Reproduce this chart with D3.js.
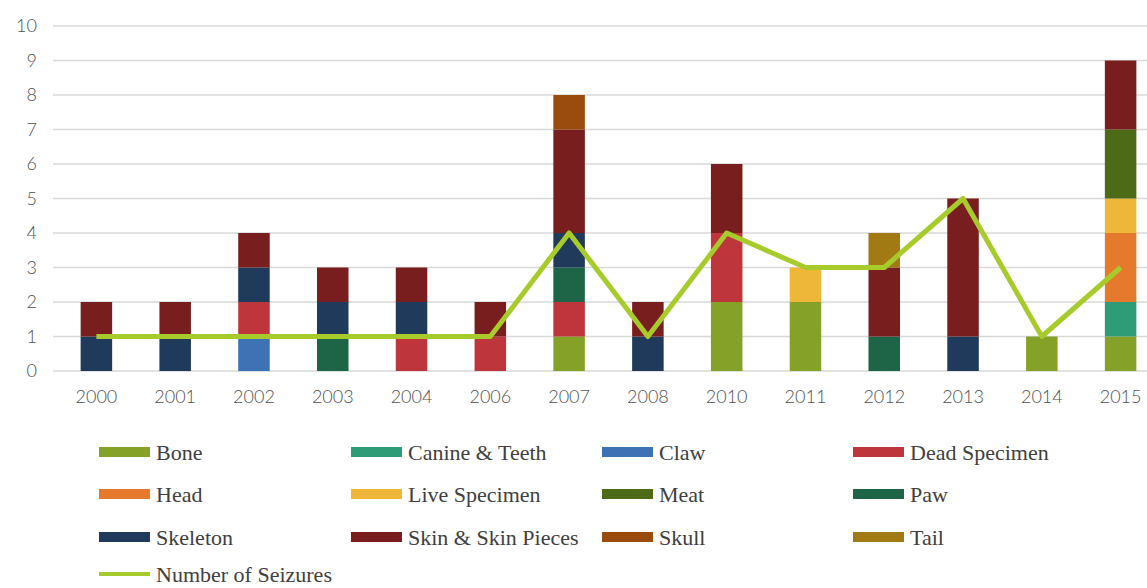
<!DOCTYPE html>
<html>
<head>
<meta charset="utf-8">
<script src="https://cdn.jsdelivr.net/npm/d3@7"></script>
<style>
  body { margin: 0; background: #fff; }
  svg { display: block; }
</style>
</head>
<body>
<script>

var years = ['2000', '2001', '2002', '2003', '2004', '2006', '2007', '2008', '2010', '2011', '2012', '2013', '2014', '2015']

var bone     = [0, 0, 0, 0, 0, 0, 1, 0, 2, 2, 0, 0, 1, 1]
var canine   = [0, 0, 0, 0, 0, 0, 0, 0, 0, 0, 0, 0, 0, 1]
var claw     = [0, 0, 1, 0, 0, 0, 0, 0, 0, 0, 0, 0, 0, 0]
var dead     = [0, 0, 1, 0, 1, 1, 1, 0, 2, 0, 0, 0, 0, 0]
var head     = [0, 0, 0, 0, 0, 0, 0, 0, 0, 0, 0, 0, 0, 2]
var live     = [0, 0, 0, 0, 0, 0, 0, 0, 0, 1, 0, 0, 0, 1]
var meat     = [0, 0, 0, 0, 0, 0, 0, 0, 0, 0, 0, 0, 0, 2]
var paw      = [0, 0, 0, 1, 0, 0, 1, 0, 0, 0, 1, 0, 0, 0]
var skeleton = [1, 1, 1, 1, 1, 0, 1, 1, 0, 0, 0, 1, 0, 0]
var skin     = [1, 1, 1, 1, 1, 1, 3, 1, 2, 0, 2, 4, 0, 2]
var skull    = [0, 0, 0, 0, 0, 0, 1, 0, 0, 0, 0, 0, 0, 0]
var tail     = [0, 0, 0, 0, 0, 0, 0, 0, 0, 0, 1, 0, 0, 0]

var seizures = [1, 1, 1, 1, 1, 1, 4, 1, 4, 3, 3, 5, 1, 3]

var seriesNames = ['Bone', 'Canine & Teeth', 'Claw', 'Dead Specimen', 'Head', 'Live Specimen',
                   'Meat', 'Paw', 'Skeleton', 'Skin & Skin Pieces', 'Skull', 'Tail']
var seriesValues = [bone, canine, claw, dead, head, live, meat, paw, skeleton, skin, skull, tail]
var seriesColors = ['#86a128', '#2e9c77', '#3d72b4', '#be363b', '#e57a2c', '#eeb73a',
                    '#4d6a17', '#1e6446', '#1f3a5a', '#781e1f', '#994c0e', '#a27a14']
var lineName = 'Number of Seizures'
var lineColor = '#a6cb2a'

var yTicks = [0, 1, 2, 3, 4, 5, 6, 7, 8, 9, 10]

var width = 1147
var height = 588

var svg = d3.select('body')
            .append('svg')
                .attr('width', width)
                .attr('height', height)

// one row per year, keyed by series name
var table = years.map(function(y, i) {
    var row = { year: y }
    seriesNames.forEach(function(name, s) { row[name] = seriesValues[s][i] })
    return row
})

var xscale = d3.scaleBand()
                .domain(years)
                .range([57, 1160])
                .paddingInner(0.6)
                .paddingOuter(0.3)

var yscale = d3.scaleLinear()
                .domain([0, 10])
                .range([371, 26])

// gridlines
svg.append('g')
    .selectAll('line')
    .data(yTicks)
    .enter()
        .append('line')
            .attr('x1', 53)
            .attr('x2', width)
            .attr('y1', d => yscale(d))
            .attr('y2', d => yscale(d))
            .attr('stroke', '#d9d9d9')
            .attr('stroke-width', 1.5)

// y axis labels
var y_axis = d3.axisLeft(yscale).tickValues(yTicks).tickSize(0).tickPadding(0)
svg.append('g')
    .attr('transform', 'translate(37,0)')
    .call(y_axis)
    .call(g => g.select('.domain').remove())
    .selectAll('text')
        .attr('font-family', 'Lato, sans-serif')
        .attr('font-weight', 300)
        .attr('font-size', 18)
        .attr('fill', '#505050')

// x axis labels
var x_axis = d3.axisBottom(xscale).tickSize(0).tickPadding(0)
svg.append('g')
    .attr('transform', 'translate(0,390)')
    .call(x_axis)
    .call(g => g.select('.domain').remove())
    .selectAll('text')
        .attr('font-family', 'Lato, sans-serif')
        .attr('font-weight', 300)
        .attr('font-size', 18)
        .attr('fill', '#505050')

// stacked bars
var stacked = d3.stack().keys(seriesNames)(table)

svg.append('g')
    .selectAll('g')
    .data(stacked)
    .enter()
        .append('g')
            .attr('fill', (d, i) => seriesColors[i])
        .selectAll('rect')
        .data(d => d)
        .enter()
            .append('rect')
                .attr('x', d => xscale(d.data.year))
                .attr('y', d => yscale(d[1]))
                .attr('width', xscale.bandwidth())
                .attr('height', d => yscale(d[0]) - yscale(d[1]))

// seizures line
var line = d3.line()
                .x((d, i) => xscale(years[i]) + xscale.bandwidth() / 2)
                .y(d => yscale(d))

svg.append('path')
    .datum(seizures)
    .attr('d', line)
    .attr('fill', 'none')
    .attr('stroke', lineColor)
    .attr('stroke-width', 5)
    .attr('stroke-linejoin', 'round')

// legend
var legendX = [99, 351, 602, 853]
var legendY = [452, 494, 537, 574]
var swatchW = 51

var legend = svg.append('g')
seriesNames.forEach(function(name, i) {
    var lx = legendX[i % 4]
    var ly = legendY[Math.floor(i / 4)]
    legend.append('rect')
        .attr('x', lx)
        .attr('y', ly - 5)
        .attr('width', swatchW)
        .attr('height', 10)
        .attr('fill', seriesColors[i])
    legend.append('text')
        .attr('x', lx + swatchW + 6)
        .attr('y', ly)
        .attr('dy', '0.35em')
        .attr('font-family', '"Liberation Serif", serif')
        .attr('font-size', 22)
        .attr('fill', '#404040')
        .text(name)
})

legend.append('line')
    .attr('x1', legendX[0])
    .attr('x2', legendX[0] + swatchW)
    .attr('y1', legendY[3])
    .attr('y2', legendY[3])
    .attr('stroke', lineColor)
    .attr('stroke-width', 4)
legend.append('text')
    .attr('x', legendX[0] + swatchW + 6)
    .attr('y', legendY[3])
    .attr('dy', '0.35em')
    .attr('font-family', '"Liberation Serif", serif')
    .attr('font-size', 22)
    .attr('fill', '#404040')
    .text(lineName)

</script>
</body>
</html>
